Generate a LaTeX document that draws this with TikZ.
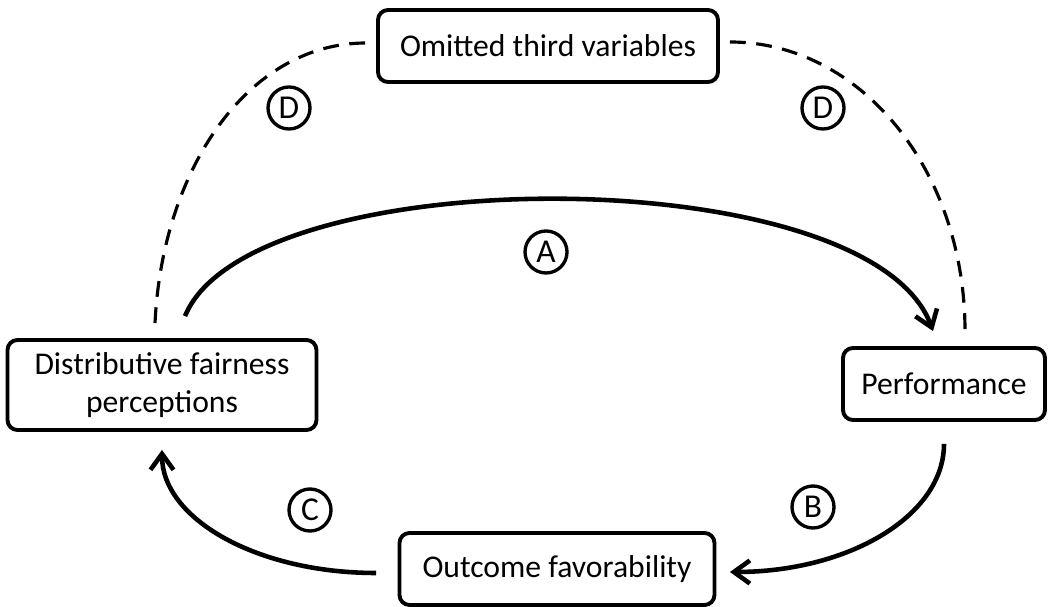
\documentclass[tikz,border=0pt]{standalone}
\usepackage{fontspec}
\setmainfont{Carlito}
\usetikzlibrary{arrows.meta, calc, positioning}

\begin{document}
\begin{tikzpicture}[
    box/.style={draw, line width=2.2pt, rounded corners=0.2cm, align=center,
        minimum height=1.44cm, inner sep=0pt, font=\fontsize{18}{21.6}\selectfont},
    tag/.style={draw, circle, line width=1.9pt, minimum size=0.84cm, inner sep=0pt,
        font=\fontsize{19}{22}\selectfont},
    link/.style={line width=2.6pt, -{Straight Barb[length=3.2mm,width=4.6mm]}},
    spur/.style={line width=1.8pt, dash pattern=on 9pt off 6pt}
]
\useasboundingbox (0,0) rectangle (20.98,12.12);

% boxes
\node[box, minimum width=6.8cm] (omitted) at (10.96,11.2) {Omitted third variables};
\node[box, minimum width=6.18cm, minimum height=1.8cm] (fair) at (3.24,4.42) {Distributive fairness\\perceptions};
\node[box, minimum width=4.04cm] (perf) at (18.88,4.44) {Performance};
\node[box, minimum width=6.3cm] (outcome) at (11.14,0.74) {Outcome favorability};

% causal paths
\draw[link] ([shift={(0.46,0.44)}]fair.north) .. controls +(1.3,3.16) and +(-1.26,3.46) .. ([shift={(-0.22,0.3)}]perf.north);
\draw[link] ([yshift=-0.44cm]perf.south) .. controls +(0,-1.44) and +(2.37,0) .. ([shift={(0.27,-0.06)}]outcome.east);
\draw[link] ([shift={(-0.43,-0.08)}]outcome.west) .. controls +(-2.38,0) and +(0,-1.38) .. ([yshift=-0.36cm]fair.south);

% spurious links
\draw[spur] ([shift={(-0.14,0.3)}]fair.north) .. controls +(0.15,3.1) and +(-2.35,0) .. ([shift={(-0.2,0.06)}]omitted.west);
\draw[spur] ([shift={(0.2,0.08)}]omitted.east) .. controls +(2.62,0) and +(0,3.21) .. ([shift={(0.42,0.3)}]perf.north);

% path labels
\node[tag] (tagDl) at (5.78,9.96) {D};
\node[tag] (tagDr) at (16.46,9.96) {D};
\node[tag] (tagA) at (10.92,7.08) {A};
\node[tag] (tagB) at (16.26,1.98) {B};
\node[tag] (tagC) at (6.2,1.92) {C};
\end{tikzpicture}
\end{document}
